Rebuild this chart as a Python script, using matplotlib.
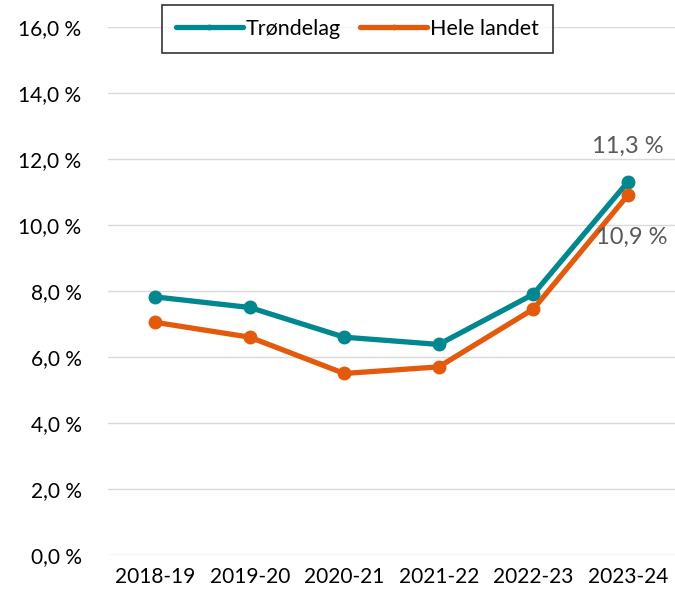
import matplotlib.pyplot as plt
import numpy as np

plt.rcParams['font.family'] = ['Lato', 'DejaVu Sans']

# data
years = ['2018-19', '2019-20', '2020-21', '2021-22', '2022-23', '2023-24']
trondelag = [7.82, 7.5, 6.6, 6.38, 7.9, 11.3]
hele_landet = [7.05, 6.6, 5.5, 5.7, 7.45, 10.9]
yticks = [0, 2, 4, 6, 8, 10, 12, 14, 16]

teal = '#00878F'
orange = '#E35A0C'

fig = plt.figure(figsize=(6.75, 5.97), dpi=100)
ax = fig.add_axes([0.16, 0.0704, 0.84, 0.8844])

x = np.arange(len(years))
ax.plot(x, trondelag, color=teal, lw=3.8, marker='o', ms=9, label='Trøndelag',
        solid_capstyle='round', zorder=3)
ax.plot(x, hele_landet, color=orange, lw=3.8, marker='o', ms=9, label='Hele landet',
        solid_capstyle='round', zorder=3)

# labels on last point
ax.annotate('11,3 %', (x[-1], trondelag[-1]), xytext=(0, 18), textcoords='offset points',
            ha='center', va='bottom', fontsize=17, color='#595959')
ax.annotate('10,9 %', (x[-1], hele_landet[-1]), xytext=(3, -23), textcoords='offset points',
            ha='center', va='top', fontsize=17, color='#595959')

ax.set_xlim(-0.5, len(years) - 0.5)
ax.set_ylim(0, 16)
ax.set_yticks(yticks)
ax.set_yticklabels([f'{v:.1f} %'.replace('.', ',') for v in yticks])
ax.set_xticks(x)
ax.set_xticklabels(years)
ax.tick_params(length=0, labelsize=15, colors='#000000')
ax.tick_params(axis='y', pad=19)
ax.tick_params(axis='x', pad=9)
ax.grid(axis='y', color='#D9D9D9', lw=1)
ax.set_axisbelow(True)
for s in ax.spines.values():
    s.set_visible(False)

leg = ax.legend(loc='upper center', bbox_to_anchor=(0.44, 1.042), borderaxespad=0,
                ncol=2, fontsize=15.5, frameon=True, fancybox=False, edgecolor='black',
                handlelength=3.1, handletextpad=0.15, columnspacing=0.9,
                borderpad=0.65, markerscale=0.35)
leg.get_frame().set_linewidth(1.2)

fig.savefig('out.png', dpi=100)
